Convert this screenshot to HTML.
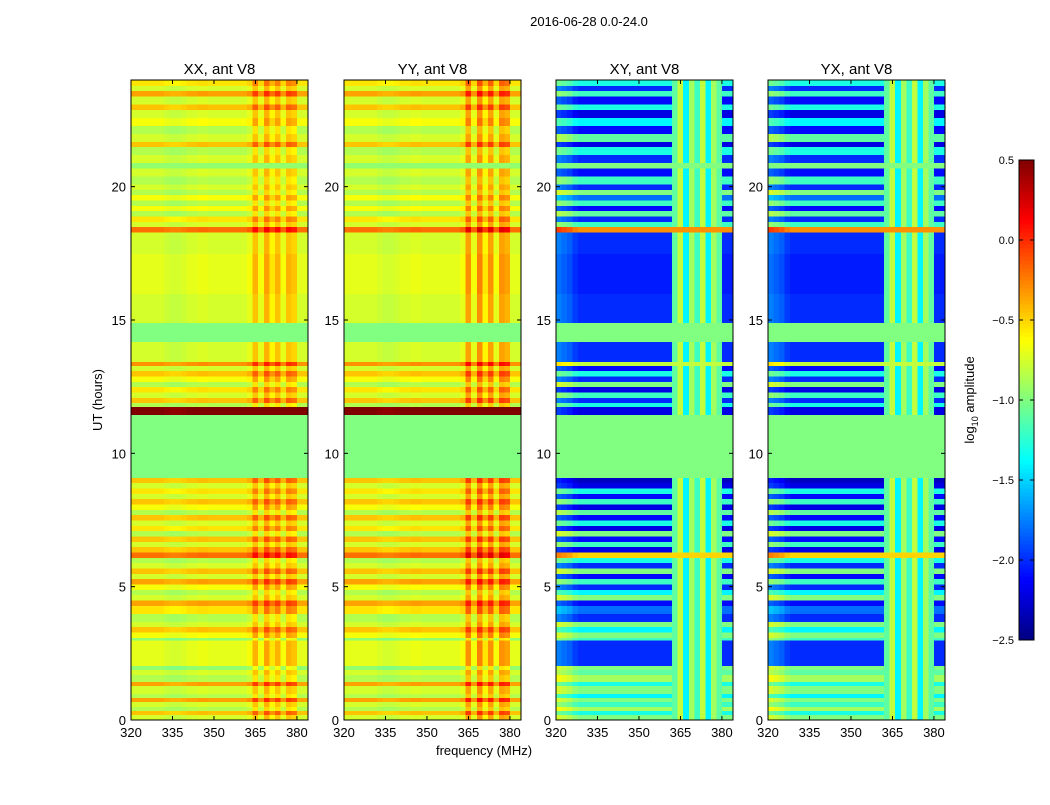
<!DOCTYPE html>
<html><head><meta charset="utf-8">
<style>
body{margin:0;background:#fff;font-family:"Liberation Sans",sans-serif;}
svg text{font-family:"Liberation Sans",sans-serif;}
</style></head>
<body>
<svg id="chart" width="1050" height="800" xmlns="http://www.w3.org/2000/svg">
<rect width="1050" height="800" fill="#fff"/>
<text x="589" y="26" font-size="13" text-anchor="middle">2016-06-28 0.0-24.0</text>
<text x="484" y="755" font-size="13" text-anchor="middle">frequency (MHz)</text>
<text transform="translate(102,400) rotate(-90)" font-size="13" text-anchor="middle">UT (hours)</text>
<g id="panels"></g>
<g id="cbar"></g>
</svg>
<script>
const panelNames = ["XX, ant V8","YY, ant V8","XY, ant V8","YX, ant V8"];
const panelKinds = ["par","par","cross","cross"];
const rowStart = [0.0,0.2,0.35,0.5,0.7,0.85,1.0,1.3,1.45,1.7,1.9,2.05,3.0,3.1,3.3,3.5,3.7,4.0,4.3,4.5,4.7,4.9,5.1,5.3,5.5,5.7,5.9,6.1,6.3,6.5,6.7,6.9,7.1,7.3,7.5,7.7,7.9,8.1,8.3,8.5,8.7,8.9,9.1,11.45,11.75,11.9,12.1,12.3,12.5,12.7,12.9,13.1,13.3,13.45,14.2,14.9,16.0,17.5,18.3,18.5,18.7,18.9,19.1,19.3,19.5,19.7,19.9,20.1,20.4,20.7,20.9,21.2,21.5,21.7,22.0,22.3,22.6,22.9,23.1,23.4,23.6,23.8];
const rowPar = [-0.75,-0.45,-0.85,-0.75,-0.35,-0.85,-0.75,-0.35,-0.85,-0.75,-0.95,-0.7,-0.95,-0.65,-0.45,-0.75,-0.85,-0.55,-0.35,-0.75,-0.85,-0.65,-0.35,-0.75,-0.45,-0.75,-0.85,-0.2,-0.45,-0.75,-0.45,-0.85,-0.55,-0.75,-0.45,-0.85,-0.65,-0.45,-0.75,-0.55,-0.75,-0.45,-1.0,0.5,-0.85,-0.45,-0.75,-0.55,-0.85,-0.65,-0.45,-0.75,-0.3,-0.75,-1.0,-0.75,-0.7,-0.75,-0.2,-0.75,-0.55,-0.85,-0.65,-0.85,-0.65,-0.85,-0.75,-0.85,-0.75,-0.95,-0.75,-0.85,-0.45,-0.75,-0.85,-0.65,-0.75,-0.45,-0.75,-0.35,-0.75,-0.55];
const rowCross = [-1.0,-1.3,-0.9,-1.2,-1.0,-1.4,-1.0,-1.3,-0.9,-1.1,-1.0,-2.0,-1.2,-1.0,-1.4,-1.0,-2.0,-1.8,-2.1,-1.0,-1.4,-2.0,-1.2,-2.1,-1.0,-2.0,-1.3,-0.5,-2.2,-1.2,-2.1,-1.0,-2.2,-1.3,-2.1,-1.1,-2.2,-1.2,-2.1,-1.3,-2.2,-2.3,-1.0,-2.2,-1.3,-2.0,-1.2,-2.2,-1.0,-2.0,-1.3,-2.1,-0.8,-2.0,-1.0,-2.0,-2.05,-2.0,-0.3,-1.2,-2.0,-1.1,-2.1,-1.2,-1.8,-1.0,-2.0,-1.2,-2.1,-1.1,-2.0,-1.3,-2.2,-1.1,-2.1,-1.4,-2.2,-1.3,-2.1,-1.2,-2.0,-1.3];
const rowMasked = [0,0,0,0,0,0,0,0,0,0,0,0,0,0,0,0,0,0,0,0,0,0,0,0,0,0,0,0,0,0,0,0,0,0,0,0,0,0,0,0,0,0,1,0,0,0,0,0,0,0,0,0,0,0,1,0,0,0,0,0,0,0,0,0,0,0,0,0,0,1,0,0,0,0,0,0,0,0,0,0,0,0];
const colStart = [320,322,324,326,328,330,332,334,336,338,340,342,344,346,348,350,352,354,356,358,360,362,364,366,368,370,372,374,376,378,380,382];
const parOff = [0,0,0,0,0,0,-0.03,-0.05,-0.05,-0.03,0,0,0.02,0.02,0,0,0,0,0,0,0,0.05,0.3,0.05,0.35,0.15,0.3,0.05,0.3,0.25,0,0];
const crossOff = [0.25,0.2,0.15,0.05,0,0,0,0,0,0,0,0,0,0,0,0,0,0,0,0,0,0,0,0,0,0,0,0,0,0,0,0];
const crossRFI = [null,null,null,null,null,null,null,null,null,null,null,null,null,null,null,null,null,null,null,null,null,-1.1,-0.8,-1.4,-0.9,-1.2,-0.8,-1.4,-0.9,-1.1,null,null];
const xTicks = [320,335,350,365,380];
const yTicks = [0,5,10,15,20];
const cbTicks = [0.5,0.0,-0.5,-1.0,-1.5,-2.0,-2.5];

const NS="http://www.w3.org/2000/svg";
const panelLeft=[131,344,556,768], pw=177, pTop=80, pBot=720;
const fMin=320,fMax=384,tMin=0,tMax=24,vMin=-2.5,vMax=0.5;
function jet(v){let x=(v-vMin)/(vMax-vMin);x=Math.max(0,Math.min(1,x));
 const c=t=>Math.round(255*Math.max(0,Math.min(1,1.5-Math.abs(t))));
 return `rgb(${c(4*x-3)},${c(4*x-2)},${c(4*x-1)})`;}
function el(tag,attrs,parent){const e=document.createElementNS(NS,tag);for(const k in attrs)e.setAttribute(k,attrs[k]);parent.appendChild(e);return e;}
const yS=t=>pBot-(t-tMin)/(tMax-tMin)*(pBot-pTop);
const panelsG=document.getElementById('panels');
panelLeft.forEach((L,p)=>{
 const xS=f=>L+(f-fMin)/(fMax-fMin)*pw;
 const g=el('g',{},panelsG);
 
 
 const cells=el('g',{'shape-rendering':'crispEdges'},g);
 for(let r=0;r<rowStart.length;r++){
  const t0=rowStart[r],t1=r+1<rowStart.length?rowStart[r+1]:tMax;
  for(let c=0;c<colStart.length;c++){
   const f0=colStart[c],f1=c+1<colStart.length?colStart[c+1]:fMax;
   let v;
   if(panelKinds[p]==='par'){v=rowMasked[r]?rowPar[r]:rowPar[r]+parOff[c]+(p===1&&parOff[c]>0.2?0.1:0);}
   else{ if(rowMasked[r])v=-1.0; else if(crossRFI[c]!==null)v=(rowCross[r]>-0.9?Math.max(rowCross[r],crossRFI[c]):crossRFI[c]); else v=rowCross[r]+crossOff[c];}
   const x0=xS(f0),x1=xS(f1),y0=yS(t1),y1=yS(t0);
   const rc=el('rect',{x:x0.toFixed(2),y:y0.toFixed(2),width:(x1-x0+0.5).toFixed(2),height:(y1-y0+0.5).toFixed(2),fill:jet(v)},cells);
   
   
  }
 }
 el('rect',{x:L,y:pTop,width:pw,height:pBot-pTop,fill:'none',stroke:'#000','stroke-width':1},g);
 const tt=el('text',{x:L+pw/2,y:74,'font-size':15,'text-anchor':'middle'},g);tt.textContent=panelNames[p];
 
 
 xTicks.forEach(f=>{const x=xS(f);
  el('line',{x1:x,x2:x,y1:pBot,y2:pBot-4,stroke:'#000'},g);el('line',{x1:x,x2:x,y1:pTop,y2:pTop+4,stroke:'#000'},g);
  const t=el('text',{x:x,y:pBot+17,'font-size':13,'text-anchor':'middle'},g);t.textContent=f;
  
  });
 yTicks.forEach(h=>{const y=yS(h);
  el('line',{x1:L,x2:L+4,y1:y,y2:y,stroke:'#000'},g);el('line',{x1:L+pw,x2:L+pw-4,y1:y,y2:y,stroke:'#000'},g);
  const t=el('text',{x:L-5,y:y+5,'font-size':13,'text-anchor':'end'},g);t.textContent=h;
  
  });
});
// colorbar
const cb=document.getElementById('cbar');


const cbX=1019,cbW=15,cbT=160,cbB=640;
const cS=v=>cbB-(v-vMin)/(vMax-vMin)*(cbB-cbT);
for(let i=0;i<120;i++){const v0=vMin+i*(vMax-vMin)/120,v1=vMin+(i+1)*(vMax-vMin)/120;
 el('rect',{x:cbX,y:cS(v1),width:cbW,height:cS(v0)-cS(v1)+0.5,fill:jet((v0+v1)/2),'shape-rendering':'crispEdges'},cb);}
el('rect',{x:cbX,y:cbT,width:cbW,height:cbB-cbT,fill:'none',stroke:'#000'},cb);
cbTicks.forEach(v=>{const y=cS(v);
 el('line',{x1:cbX,x2:cbX+4,y1:y,y2:y,stroke:'#000'},cb);
 el('line',{x1:cbX+cbW-4,x2:cbX+cbW,y1:y,y2:y,stroke:'#000'},cb);
 const t=el('text',{x:1014,y:y+4,'font-size':11,'text-anchor':'end'},cb);t.textContent=v.toFixed(1).replace('-','\u2212');
 
 });
const lab=el('text',{transform:'translate(974,400) rotate(-90)','font-size':13,'text-anchor':'middle'},cb);
lab.innerHTML='log<tspan font-size="9" dy="4">10</tspan><tspan dy="-4"> amplitude</tspan>';


</script>
</body></html>
